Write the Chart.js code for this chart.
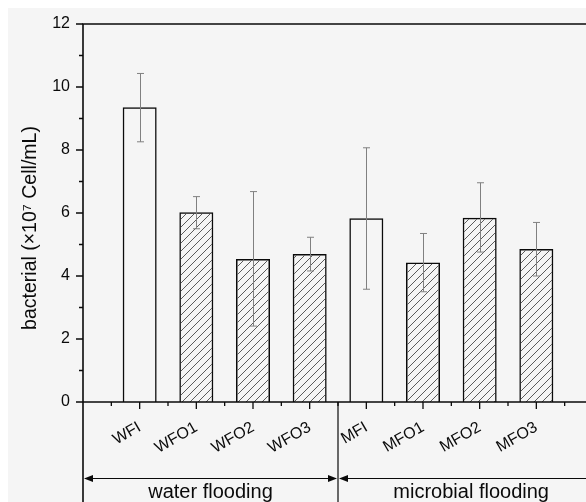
<!DOCTYPE html>
<html>
<head>
<meta charset="utf-8">
<script src="https://cdn.jsdelivr.net/npm/chart.js@4.4.0/dist/chart.umd.min.js"></script>
<style>
  html, body { margin: 0; padding: 0; background: #fff; overflow: hidden; }
  #wrap { position: relative; width: 586px; height: 502px; overflow: hidden; }
  #wrap canvas { position: absolute; left: 0; top: 0; }
</style>
</head>
<body>
<div id="wrap"><canvas id="c" width="600" height="502"></canvas></div>
<script>
// data
const categories = ['WFI', 'WFO1', 'WFO2', 'WFO3', 'MFI', 'MFO1', 'MFO2', 'MFO3'];
const means   = [9.36, 6.02, 4.54, 4.70, 5.83, 4.43, 5.85, 4.86];
const errLow  = [8.26, 5.50, 2.41, 4.16, 3.58, 3.50, 4.76, 4.00];
const errHigh = [10.43, 6.52, 6.68, 5.23, 8.07, 5.35, 6.96, 5.70];
const hatched = [false, true, true, true, false, true, true, true];
const groups = ['water flooding', 'microbial flooding'];
const groupFirst = [0, 4];
const yTicks = [0, 2, 4, 6, 8, 10, 12];
const yTitle = 'bacterial (×10⁷ Cell/mL)';

Chart.defaults.font.family = "'Liberation Sans', Arial, sans-serif";
const INK = '#0a0a0a';

function hatchPattern() {
  const c = document.createElement('canvas'); c.width = 8; c.height = 8;
  const g = c.getContext('2d');
  g.strokeStyle = '#4a4a4a'; g.lineWidth = 0.9;
  g.beginPath();
  g.moveTo(0, 8); g.lineTo(8, 0);
  g.moveTo(-4, 4); g.lineTo(4, -4);
  g.moveTo(4, 12); g.lineTo(12, 4);
  g.stroke();
  return g.createPattern(c, 'repeat');
}
const pattern = hatchPattern();

const background = {
  id: 'background',
  beforeDraw(chart) {
    const { ctx, width, height } = chart;
    ctx.save();
    ctx.fillStyle = '#f5f5f5';
    ctx.fillRect(8, 8, width, height);
    ctx.restore();
  }
};

const errorBars = {
  id: 'errorBars',
  afterDatasetsDraw(chart) {
    const { ctx } = chart;
    const y = chart.scales.y;
    const bars = chart.getDatasetMeta(0).data;
    ctx.save();
    ctx.strokeStyle = '#808080'; ctx.lineWidth = 1;
    bars.forEach((b, i) => {
      const x = Math.round(b.x) + 0.5;
      const hi = y.getPixelForValue(errHigh[i]), lo = y.getPixelForValue(errLow[i]);
      ctx.beginPath();
      ctx.moveTo(x, hi); ctx.lineTo(x, lo);
      ctx.moveTo(x - 3.5, hi); ctx.lineTo(x + 3.5, hi);
      ctx.moveTo(x - 3.5, lo); ctx.lineTo(x + 3.5, lo);
      ctx.stroke();
    });
    ctx.restore();
  }
};

function arrowHead(ctx, x, y, dir) {
  ctx.beginPath();
  ctx.moveTo(x, y);
  ctx.lineTo(x - dir * 9, y - 3.5);
  ctx.lineTo(x - dir * 9, y + 3.5);
  ctx.closePath(); ctx.fill();
}

const frame = {
  id: 'frame',
  afterDraw(chart) {
    const { ctx, chartArea: a, height } = chart;
    const xs = chart.scales.x, ys = chart.scales.y;
    ctx.save();
    ctx.strokeStyle = INK; ctx.fillStyle = INK;
    ctx.lineWidth = 1.6;
    ctx.beginPath();
    ctx.moveTo(a.left, height); ctx.lineTo(a.left, a.top); ctx.lineTo(a.right, a.top);
    ctx.moveTo(a.left, a.bottom); ctx.lineTo(a.right, a.bottom);
    ctx.stroke();

    // ticks
    ctx.lineWidth = 1.3;
    ctx.beginPath();
    for (let v = ys.min; v <= ys.max; v++) {
      const py = ys.getPixelForValue(v), len = v % 2 === 0 ? 7 : 4;
      ctx.moveTo(a.left - len, py); ctx.lineTo(a.left, py);
    }
    for (let v = xs.min + 0.5; v < xs.max; v += 0.5) {
      const px = xs.getPixelForValue(v), len = Number.isInteger(v) ? 7 : 4;
      ctx.moveTo(px, a.bottom); ctx.lineTo(px, a.bottom + len);
    }
    ctx.stroke();

    // group separators, arrows and labels
    const bounds = [xs.min];
    for (let g = 1; g < groupFirst.length; g++) bounds.push(groupFirst[g] - 0.5);
    bounds.push(xs.max + 0.2);
    const ay = 478.5;
    ctx.lineWidth = 1.2;
    ctx.textAlign = 'center'; ctx.textBaseline = 'middle';
    ctx.font = "20px 'Liberation Sans', Arial, sans-serif";
    groups.forEach((name, g) => {
      const x0 = xs.getPixelForValue(bounds[g]), x1 = xs.getPixelForValue(bounds[g + 1]);
      ctx.beginPath();
      ctx.moveTo(x0 + 2, ay); ctx.lineTo(x1 - 2, ay);
      ctx.stroke();
      arrowHead(ctx, x0 + 1, ay, -1);
      arrowHead(ctx, x1 - 1, ay, 1);
      if (g > 0) {
        ctx.beginPath(); ctx.moveTo(x0, a.bottom); ctx.lineTo(x0, height); ctx.stroke();
      }
      ctx.fillText(name, (x0 + x1) / 2, 492);
    });

    // y title
    ctx.translate(31, 228);
    ctx.rotate(-Math.PI / 2);
    ctx.font = "19.5px 'Liberation Sans', Arial, sans-serif";
    ctx.fillText(yTitle, 0, 0);
    ctx.restore();
  }
};

new Chart(document.getElementById('c'), {
  type: 'bar',
  data: {
    datasets: [{
      data: means.map((v, i) => ({ x: i, y: v })),
      backgroundColor: hatched.map(h => h ? pattern : 'rgba(0,0,0,0)'),
      borderColor: INK,
      borderWidth: 1.5,
      barPercentage: 0.6,
      categoryPercentage: 1
    }]
  },
  options: {
    responsive: false,
    animation: false,
    layout: { padding: { top: 24, right: 7, left: 0, bottom: 0 } },
    plugins: { legend: { display: false }, tooltip: { enabled: false } },
    scales: {
      x: {
        type: 'linear', min: -1, max: 8, offset: false,
        grid: { display: false, drawTicks: false, offset: false }, border: { display: false },
        afterBuildTicks: s => { s.ticks = categories.map((c, i) => ({ value: i })); },
        afterFit: s => { s.height = 100; },
        ticks: {
          autoSkip: false, minRotation: 30, maxRotation: 30, padding: 16,
          color: INK, font: { size: 16 },
          callback: v => categories[v] ?? ''
        }
      },
      y: {
        min: 0, max: 12,
        grid: { display: false, drawTicks: false }, border: { display: false },
        afterBuildTicks: s => { s.ticks = yTicks.map(v => ({ value: v })); },
        afterFit: s => { s.width = 83; },
        ticks: { padding: 13, color: INK, font: { size: 16 } }
      }
    }
  },
  plugins: [background, errorBars, frame]
});
</script>
</body>
</html>
